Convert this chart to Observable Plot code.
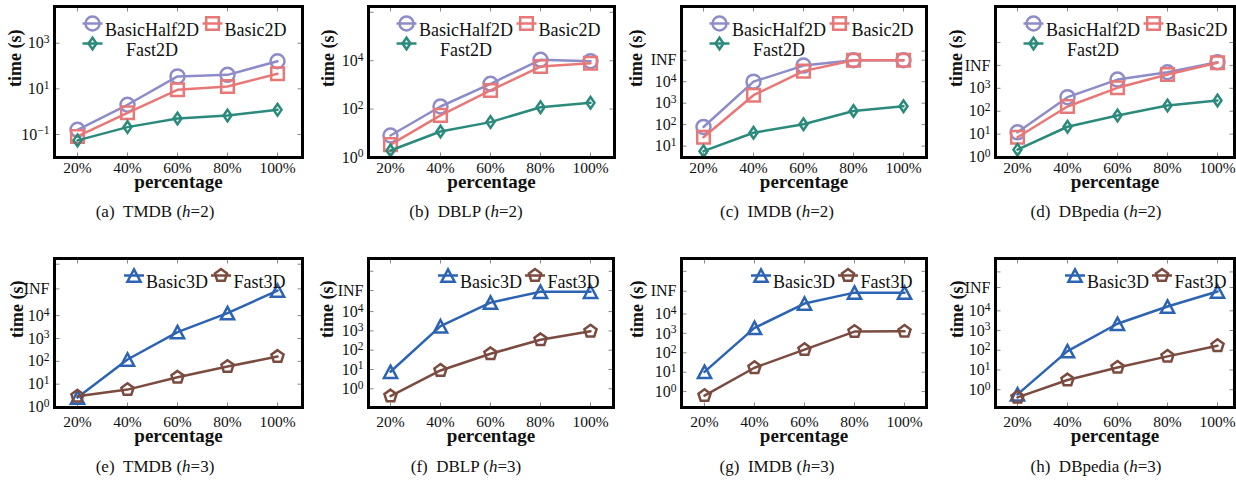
<!DOCTYPE html>
<html>
<head>
<meta charset="utf-8">
<script src="https://cdn.jsdelivr.net/npm/d3@7"></script>
<script src="https://cdn.jsdelivr.net/npm/@observablehq/plot@0.6"></script>
<style>
  html, body { margin: 0; padding: 0; background: white; }
  #wrap { position: relative; width: 1236px; height: 487px; overflow: hidden; background: white; }
  #wrap svg { position: absolute; left: 0; top: 0; }
  .cap { position: absolute; transform: translate(-50%, -50%); white-space: nowrap;
         font-family: "Liberation Serif", "DejaVu Serif", serif; font-size: 17px; color: #111; }
</style>
</head>
<body>
<div id="wrap"></div>
<script>
// ---------- data ----------
const percentages = ["20%", "40%", "60%", "80%", "100%"];
const names2D = ["BasicHalf2D", "Basic2D", "Fast2D"];
const names3D = ["Basic3D", "Fast3D"];

// time (s), one row per series, one value per percentage
const tmdbH2    = [[0.16, 2.0, 35, 41, 162], [0.082, 0.89, 9.1, 12.6, 46], [0.055, 0.21, 0.5, 0.68, 1.2]];
const dblpH2    = [[8.1, 128, 1110, 10900, 9550], [3.4, 55, 590, 5750, 7900], [1.95, 11.9, 29, 120, 182]];
const imdbH2    = [[78, 10000, 56000, 1e5, 1e5], [26, 2350, 31000, 1e5, 1e5], [5.8, 42, 104, 430, 720]];
const dbpediaH2 = [[12, 410, 2400, 5000, 13800], [7.3, 160, 1050, 4000, 13000], [2.1, 21, 65, 178, 295]];
const tmdbH3    = [[2.6, 120, 1900, 12900, 125000], [2.95, 5.8, 20, 59, 162]];
const dblpH3    = [[7.6, 1750, 29000, 107000, 107000], [0.42, 8.9, 65, 345, 960]];
const imdbH3    = [[10.4, 1920, 34500, 126000, 126000], [0.62, 17, 146, 1240, 1270]];
const dbpediaH3 = [[0.58, 90, 2200, 16500, 95000], [0.41, 3.1, 13.5, 49, 170]];

// y tick values and labels ("10^k" is drawn as 10 with a superscript k)
const tmdbH2Ticks = [0.1, 10, 1000];
const tmdbH2Labels = ["10^-1", "10^1", "10^3"];
const dblpH2Ticks = [1, 100, 1e4, 1e6];
const dblpH2Labels = ["10^0", "10^2", "10^4", ""];
const imdbH2Ticks = [10, 100, 1000, 1e4, 1e5, 10 ** 5.42];
const imdbH2Labels = ["10^1", "10^2", "10^3", "10^4", "INF", ""];
const dbpediaH2Ticks = [1, 10, 100, 1000, 1e4, 1e5];
const dbpediaH2Labels = ["10^0", "10^1", "10^2", "10^3", "INF", ""];
const tmdbH3Ticks = [1, 10, 100, 1000, 1e4, 10 ** 5.17, 10 ** 6.25];
const dblpH3Ticks = [1, 10, 100, 1000, 1e4, 10 ** 5.09, 10 ** 6.09];
const imdbH3Ticks = [1, 10, 100, 1000, 1e4, 10 ** 5.17, 10 ** 6.2];
const dbpediaH3Ticks = [1, 10, 100, 1000, 1e4, 10 ** 5.18, 10 ** 5.97];
const h3Labels = ["10^0", "10^1", "10^2", "10^3", "10^4", "INF", ""];

const captionsDataset = ["TMDB", "DBLP", "IMDB", "DBpedia", "TMDB", "DBLP", "IMDB", "DBpedia"];
const captionLetters = ["a", "b", "c", "d", "e", "f", "g", "h"];
const captionH = [2, 2, 2, 2, 3, 3, 3, 3];

// ---------- styling ----------
const colors = {BasicHalf2D: "#8e8cc8", Basic2D: "#e87878", Fast2D: "#2b8a7c", Basic3D: "#2d63b3", Fast3D: "#7b4b40"};
const sym = (f) => ({draw(ctx) { f(ctx); }});
const pent = sym(ctx => {
  const R = 6.4;
  for (let k = 0; k < 5; k++) {
    const a = -Math.PI / 2 + k * 2 * Math.PI / 5;
    const px = R * Math.cos(a), py = R * Math.sin(a);
    k ? ctx.lineTo(px, py) : ctx.moveTo(px, py);
  }
  ctx.closePath();
});
const symbols = {
  BasicHalf2D: sym(ctx => { ctx.moveTo(7, 0); ctx.arc(0, 0, 7, 0, 2 * Math.PI); ctx.closePath(); }),
  Basic2D: sym(ctx => { ctx.rect(-6.3, -6.3, 12.6, 12.6); }),
  Fast2D: sym(ctx => { ctx.moveTo(0, -5.8); ctx.lineTo(4, 0); ctx.lineTo(0, 5.8); ctx.lineTo(-4, 0); ctx.closePath(); }),
  Basic3D: sym(ctx => { ctx.moveTo(0, -6.2); ctx.lineTo(6.6, 6.2); ctx.lineTo(-6.6, 6.2); ctx.closePath(); }),
  Fast3D: pent
};
const hline = sym(ctx => { ctx.moveTo(-10, 0); ctx.lineTo(10, 0); });
const tickL = sym(ctx => { ctx.moveTo(0, 0); ctx.lineTo(5, 0); });
const tickR = sym(ctx => { ctx.moveTo(0, 0); ctx.lineTo(-5, 0); });
const tickB = sym(ctx => { ctx.moveTo(0, 0); ctx.lineTo(0, -5); });
const tickT = sym(ctx => { ctx.moveTo(0, 0); ctx.lineTo(0, 5); });

const legend2D = [
  {name: "BasicHalf2D", mx: 38, tx: 97.5, anchor: "middle", dy: 17},
  {name: "Basic2D", mx: 158, tx: 170, anchor: "start", dy: 17},
  {name: "Fast2D", mx: 38, tx: 97.5, anchor: "middle", dy: 37}
];
const legend3D = [
  {name: "Basic3D", mx: 79.5, tx: 91.5, anchor: "start", dy: 17},
  {name: "Fast3D", mx: 166.5, tx: 179, anchor: "start", dy: 17}
];

const panels = [
  {values: tmdbH2, names: names2D, ticks: tmdbH2Ticks, labels: tmdbH2Labels, yExp: [-2.01, 4.61], frame: [54, 302, 6, 157], pad: [21.7, 24.3], ylabDx: -39, capX: 155},
  {values: dblpH2, names: names2D, ticks: dblpH2Ticks, labels: dblpH2Labels, yExp: [0, 6.24], frame: [368, 614, 6, 157], pad: [20.3, 23], ylabDx: -40, capX: 466},
  {values: imdbH2, names: names2D, ticks: imdbH2Ticks, labels: imdbH2Labels, yExp: [0.47, 7.5], frame: [681, 926, 6, 157], pad: [20.7, 21.7], ylabDx: -45, capX: 777},
  {values: dbpediaH2, names: names2D, ticks: dbpediaH2Ticks, labels: dbpediaH2Labels, yExp: [-0.02, 6.57], frame: [995, 1234, 6, 157], pad: [20.7, 15.7], ylabDx: -39, capX: 1096},
  {values: tmdbH3, names: names3D, ticks: tmdbH3Ticks, labels: h3Labels, yExp: [-0.02, 6.5], frame: [54, 302, 258, 407], pad: [21.7, 23.7], ylabDx: -37, capX: 155},
  {values: dblpH3, names: names3D, ticks: dblpH3Ticks, labels: h3Labels, yExp: [-0.97, 6.75], frame: [368, 613, 258, 407], pad: [21, 21.3], ylabDx: -41, capX: 466},
  {values: imdbH3, names: names3D, ticks: imdbH3Ticks, labels: h3Labels, yExp: [-0.82, 6.86], frame: [681, 926, 258, 407], pad: [21.3, 21], ylabDx: -44, capX: 777},
  {values: dbpediaH3, names: names3D, ticks: dbpediaH3Ticks, labels: h3Labels, yExp: [-0.9, 6.65], frame: [995, 1234, 258, 407], pad: [20.7, 15.7], ylabDx: -38, capX: 1096}
];

const W = 1236, H = 487;
const FONT = "'Liberation Serif', 'DejaVu Serif', serif";
const wrap = document.getElementById("wrap");
const SVGNS = "http://www.w3.org/2000/svg";

panels.forEach((p, pi) => {
  const [x0, x1, y0, y1] = p.frame;
  const top = pi < 4;
  const tickRows = p.ticks.map((t, i) => ({t, label: p.labels[i]}));
  const marks = [];
  // inward ticks on all four sides
  marks.push(Plot.dot(p.ticks, {y: d => d, frameAnchor: "left", symbol: tickL, stroke: "#888", strokeWidth: 1, fill: "none"}));
  marks.push(Plot.dot(p.ticks, {y: d => d, frameAnchor: "right", symbol: tickR, stroke: "#888", strokeWidth: 1, fill: "none"}));
  marks.push(Plot.dot(percentages, {x: d => d, frameAnchor: "bottom", symbol: tickB, stroke: "#888", strokeWidth: 1, fill: "none"}));
  marks.push(Plot.dot(percentages, {x: d => d, frameAnchor: "top", symbol: tickT, stroke: "#888", strokeWidth: 1, fill: "none"}));
  // series
  p.names.forEach((name, si) => {
    const rows = percentages.map((pct, i) => ({pct, v: p.values[si][i]}));
    marks.push(Plot.line(rows, {x: "pct", y: "v", stroke: colors[name], strokeWidth: 2.5}));
    marks.push(Plot.dot(rows, {x: "pct", y: "v", symbol: symbols[name], stroke: colors[name], strokeWidth: 2.5, fill: "none", strokeLinejoin: "miter"}));
  });
  // legend
  const leg = p.names.length === 3 ? legend2D : legend3D;
  leg.forEach(it => {
    marks.push(Plot.dot([it.name], {frameAnchor: "top-left", dx: it.mx, dy: it.dy, symbol: hline, stroke: colors[it.name], strokeWidth: 2.5, fill: "none"}));
    marks.push(Plot.dot([it.name], {frameAnchor: "top-left", dx: it.mx, dy: it.dy, symbol: symbols[it.name], stroke: colors[it.name], strokeWidth: 2.5, fill: "none", strokeLinejoin: "miter"}));
    marks.push(Plot.text([it.name], {frameAnchor: "top-left", dx: it.tx, dy: it.dy, text: d => d, textAnchor: it.anchor, fontSize: 18, fill: "#111"}));
  });
  // y tick labels
  marks.push(Plot.text(tickRows, {y: "t", text: "label", frameAnchor: "left", dx: -5, textAnchor: "end", fontSize: 16, fill: "#111"}));
  // x tick labels
  marks.push(Plot.axisX({tickSize: 0, tickPadding: top ? 10.5 : 14.5, lineAnchor: "middle", fontSize: 15.5, fill: "#111", label: null}));
  // axis titles
  marks.push(Plot.text(["time (s)"], {frameAnchor: "left", dx: p.ylabDx, dy: 5, rotate: -90, text: d => d, fontWeight: "bold", fontSize: 18, fill: "#111"}));
  marks.push(Plot.text(["percentage"], {frameAnchor: "bottom", dy: top ? 30 : 34, text: d => d, fontWeight: "bold", fontSize: 19, fill: "#111"}));
  marks.push(Plot.frame({stroke: "black", strokeWidth: 3}));

  const svg = Plot.plot({
    width: W, height: H,
    marginLeft: x0, marginRight: W - x1, marginTop: y0, marginBottom: H - y1,
    x: {type: "point", domain: percentages, padding: 0, insetLeft: p.pad[0], insetRight: p.pad[1]},
    y: {type: "log", domain: [10 ** p.yExp[0], 10 ** p.yExp[1]], axis: null},
    style: {fontFamily: FONT, background: "none", maxWidth: "none", overflow: "visible"},
    marks
  });
  // turn "10^k" into 10 with a superscript exponent
  svg.querySelectorAll("text").forEach(t => {
    const s = t.textContent;
    if (!s.includes("^")) return;
    const [base, ex] = s.split("^");
    while (t.firstChild) t.removeChild(t.firstChild);
    const b = document.createElementNS(SVGNS, "tspan");
    b.textContent = base;
    const e = document.createElementNS(SVGNS, "tspan");
    e.textContent = ex.replace("-", "\u2212");
    e.setAttribute("dy", "-0.45em");
    e.setAttribute("font-size", "72%");
    t.appendChild(b);
    t.appendChild(e);
  });
  wrap.appendChild(svg);

  const cap = document.createElement("div");
  cap.className = "cap";
  cap.style.left = p.capX + "px";
  cap.style.top = (top ? 212 : 467) + "px";
  cap.innerHTML = `(${captionLetters[pi]})&ensp;${captionsDataset[pi]} (<i>h</i>=${captionH[pi]})`;
  wrap.appendChild(cap);
});
</script>
</body>
</html>
